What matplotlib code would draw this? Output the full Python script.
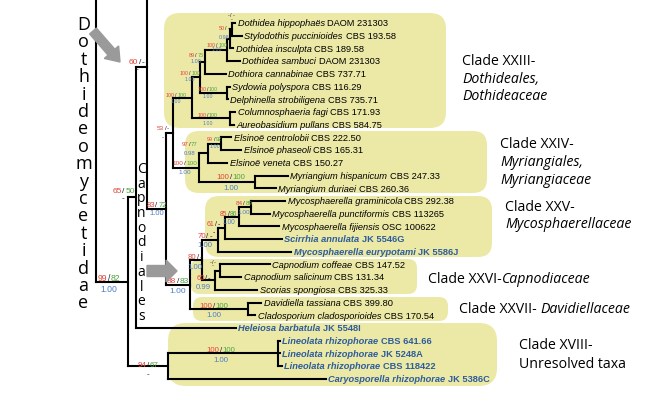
import matplotlib
matplotlib.use("Agg")
import matplotlib.pyplot as plt
from matplotlib.patches import FancyBboxPatch, FancyArrow

# ---------------- data ----------------
taxa = ["Dothidea hippophaës", "Stylodothis puccinioides", "Dothidea insculpta",
        "Dothidea sambuci", "Dothiora cannabinae", "Sydowia polyspora",
        "Delphinella strobiligena", "Columnosphaeria fagi", "Aureobasidium pullans",
        "Elsinoë centrolobii", "Elsinoë phaseoli", "Elsinoë veneta",
        "Myriangium hispanicum", "Myriangium duriaei", "Mycosphaerella graminicola",
        "Mycosphaerella punctiformis", "Mycosphaerella fijiensis", "Scirrhia annulata",
        "Mycosphaerella eurypotami", "Capnodium coffeae", "Capnodium salicinum",
        "Scorias spongiosa", "Davidiella tassiana", "Cladosporium cladosporioides",
        "Heleiosa barbatula", "Lineolata rhizophorae", "Lineolata rhizophorae",
        "Lineolata rhizophorae", "Caryosporella rhizophorae"]
strains = ["DAOM 231303", "CBS 193.58", "CBS 189.58", "DAOM 231303", "CBS 737.71",
           "CBS 116.29", "CBS 735.71", "CBS 171.93", "CBS 584.75", "CBS 222.50",
           "CBS 165.31", "CBS 150.27", "CBS 247.33", "CBS 260.36", "CBS 292.38",
           "CBS 113265", "OSC 100622", "JK 5546G", "JK 5586J", "CBS 147.52",
           "CBS 131.34", "CBS 325.33", "CBS 399.80", "CBS 170.54", "JK 5548I",
           "CBS 641.66", "JK 5248A", "CBS 118422", "JK 5386C"]
new_taxa = [17, 18, 24, 25, 26, 27, 28]
tip_x = [235, 242, 233, 240, 226, 230, 228, 235, 234,
         231, 241, 227, 288, 276,
         285, 270, 279, 282, 291,
         270, 241, 257, 261, 255,
         236, 280, 280, 282, 326]

# internal nodes: (name, x, children); children are tip indices or node names
nodes = [
    ("A", 232, [0, 1]), ("B", 229.5, ["A", 2]), ("C", 227, ["B", 3]),
    ("D", 205, ["C", 4]), ("F", 227, [5, 6]), ("E", 200, ["D", "F"]),
    ("H", 230, [7, 8]), ("G", 192, ["E", "H"]),
    ("I", 221, [9, 10]), ("J", 208, ["I", 11]), ("L", 255, [12, 13]),
    ("K", 199, ["J", "L"]), ("Q", 173, ["G", "K"]),
    ("M", 251, [14, 15]), ("N", 239, ["M", 16]), ("O", 225, ["N", 17]),
    ("Pn", 218, ["O", 18]), ("X1", 220, [19, 20]), ("X2", 215, ["X1", 21]),
    ("Y", 202, ["Pn", "X2"]), ("Z", 248, [22, 23]), ("S", 190, ["Y", "Z"]),
    ("P", 166, ["Q", "S"]), ("V", 147, ["up1", "P"]),
    ("Lin", 278, [25, 26, 27]), ("R18", 168, ["Lin", 28]),
    ("U", 136, ["V", 24]), ("T", 128, ["U", "R18"]), ("W", 96, ["up2", "T"]),
]
# lineages that continue above the picture (tip rows, negative = off the top)
offpage = {"up1": -7.7, "up2": -30.0}

support = {
    "A": ("-/-", "-"), "B": ("50/-", "0.98"), "C": ("100/100", "1.00"),
    "D": ("89/75", "1.00"), "E": ("100/100", "1.00"), "F": ("100/100", "1.00"),
    "G": ("100/100", "1.00"), "H": ("100/100", "1.00"), "Q": ("53/-", "-"),
    "I": ("99/92", "1.00"), "J": ("97/77", "0.98"), "K": ("100/100", "1.00"),
    "L": ("100/100", "1.00"), "P": ("83/72", "1.00"), "M": ("84/89", "1.00"),
    "N": ("85/86", "1.00"), "O": ("61/-", "-"), "Pn": ("70/-", "1.00"),
    "X1": ("-/-", "-"), "X2": ("60/-", "0.99"), "Y": ("80/-", "1.00"),
    "Z": ("100/100", "1.00"), "S": ("88/83", "1.00"), "Lin": ("100/100", "1.00"),
    "R18": ("94/67", "-"), "T": ("99/82", "1.00"), "U": ("65/50", "-"),
    "V": ("60/-", "-"),
}

# ---------------- style / layout ----------------
RED, GREEN, BLUE, NEWBLUE = "#e2443a", "#4fa341", "#4d7cc3", "#2c5c9c"
BOX = "#ece9a7"
SANS = "Liberation Sans"
HUM = "Open Sans"

# label placement per node: (dx from branch middle, shift up of support, shift up of pp, size)
lab_style = {
    "A": (0.5, 11, 13.4, 3.9), "B": (-4.5, 7.5, 5, 3.9), "C": (1, 1.5, 4, 3.8),
    "D": (-6.5, 3.5, 4, 4.0), "E": (-6, 1, 1.4, 3.8), "F": (-6, 0.5, 0, 3.8),
    "G": (-6.5, -0.5, 0, 3.8), "H": (-3.5, 0, -1.7, 3.8), "Q": (-6.5, 1, 0, 4.6),
    "I": (0, 1, 0.7, 3.9), "J": (-14, 6, 4, 4.3), "K": (-1, 1, 0, 4.6),
    "L": (4, 1.4, -1, 5.6), "P": (0, 0.5, 0.6, 5.5), "M": (-1, 0.3, -0.7, 4.6),
    "N": (-3.5, -0.7, -1, 4.8), "O": (-8, 0.5, 0, 5.0), "Pn": (-5.5, 0.4, 0, 5.6),
    "Y": (-1, -0.3, -1.8, 5.6), "X1": (-5, 5.3, 8.8, 4.0), "X2": (-5, -1, -1.6, 5.6),
    "Z": (-5, -0.5, -1, 5.6), "S": (0, 0, -1.4, 6.0), "Lin": (-2, 0, -1, 5.6),
    "R18": (0, -2.5, -3, 5.8), "T": (-3, -0.5, -2, 6.2), "U": (-8.5, 3, 4.5, 6.0),
    "V": (-5, 1.5, 3, 6.0),
}

W, H = 667, 400
fig = plt.figure(figsize=(W / 100, H / 100), dpi=100)
bg = fig.add_axes([0, 0, 1, 1])
bg.set_xlim(0, W)
bg.set_ylim(H, 0)
bg.axis("off")
ax = fig.add_axes([0, 0, 1, 1])
ax.set_xlim(0, W)
ax.set_ylim((H - 23) / 12.71, -23 / 12.71)   # tip rows, 12.7 px apart
ax.axis("off")
ax.patch.set_alpha(0)

rend = fig.canvas.get_renderer()


def text_w(s, fp):
    t = fig.text(0, 0, s, **fp)
    w = t.get_window_extent(renderer=rend).width
    t.remove()
    return w


def put_runs(axis, x, y, runs, dx=0.0, dy=0.0, center=False):
    gaps, widths = [], []
    for text, fp in runs:
        g = 0.6
        if text.startswith(" "):
            g = text_w("a a", fp) - text_w("aa", fp)
        gaps.append(g)
        widths.append(text_w(text.strip(), fp))
    gaps[0] = 0
    total = sum(gaps) + sum(widths)
    off = dx - total / 2 if center else dx
    for (text, fp), g, w in zip(runs, gaps, widths):
        off += g
        axis.annotate(text.strip(), (x, y), xytext=(off, dy), textcoords="offset pixels",
                      ha="left", va="baseline", **fp)
        off += w


# ---- clade boxes ----
boxes = [(164, 13, 446, 128, 16), (185, 131, 487, 193, 14), (205, 196, 492, 257, 14),
         (191, 259, 417, 294, 9), (193, 297, 448, 321, 9), (168, 323, 497, 386, 18)]
for x0, y0, x1, y1, r in boxes:
    bg.add_patch(FancyBboxPatch((x0, y0), x1 - x0, y1 - y0,
                                boxstyle=f"round,pad=0,rounding_size={r}",
                                fc=BOX, ec="none", zorder=0))

# ---- tree ----
pos = {i: (x, i) for i, x in enumerate(tip_x)}
for k, row in offpage.items():
    pos[k] = (W, row)
parent = {}
for name, x, kids in nodes:
    ys = [pos[k][1] for k in kids]
    pos[name] = (x, (min(ys) + max(ys)) / 2)
    ax.plot([x, x], [min(ys), max(ys)], color="black", lw=1.5, solid_capstyle="projecting")
    for k in kids:
        parent[k] = name
        ax.plot([x, pos[k][0]], [pos[k][1]] * 2, color="black", lw=1.5,
                solid_capstyle="projecting")

# ---- taxon names ----
for i, (name, strain) in enumerate(zip(taxa, strains)):
    new = i in new_taxa
    col = NEWBLUE if new else "black"
    wt = "bold" if new else "normal"
    fi = dict(fontsize=6.7, fontfamily=SANS, fontstyle="italic", fontweight=wt, color=col)
    fr = dict(fontsize=6.7, fontfamily=SANS, fontstyle="normal", fontweight=wt, color=col)
    put_runs(ax, tip_x[i], i, [(name, fi), (" " + strain, fr)], dx=2.5, dy=-3.3)

# ---- support values ----
for node, (bs, pp) in support.items():
    dx, sdy, pdy, size = lab_style[node]
    x, y = pos[node]
    px = pos[parent[node]][0]
    cx = (x + px) / 2
    a, b = bs.split("/")
    base = dict(fontsize=size, fontfamily=SANS)
    runs = [(a, dict(base, color=RED if a != "-" else "#222222")),
            ("/", dict(base, color="#222222")),
            (b, dict(base, color=GREEN if b != "-" else "#222222"))]
    put_runs(ax, cx, y, runs, dx=dx, dy=1.5 + sdy, center=True)
    cap = size * 100 / 72 * 0.72
    put_runs(ax, cx, y, [(pp, dict(base, color=BLUE if pp != "-" else "#222222"))],
             dx=dx, dy=-(1.5 + cap) + pdy, center=True)

# ---- clade names ----
reg = dict(fontsize=10.2, fontfamily=HUM, color="black")
ita = dict(reg, fontstyle="italic")
clade_text = [
    (462, 65, [("Clade XXIII-", reg)]), (462, 83, [("Dothideales,", ita)]),
    (462, 100, [("Dothideaceae", ita)]),
    (500, 148, [("Clade XXIV-", reg)]), (500, 166, [("Myriangiales,", ita)]),
    (500, 184, [("Myriangiaceae", ita)]),
    (505, 211, [("Clade XXV-", reg)]), (505, 228, [("Mycosphaerellaceae", ita)]),
    (428, 283, [("Clade XXVI-", reg), ("Capnodiaceae", ita)]),
    (459, 313, [("Clade XXVII-", reg), (" Davidiellaceae", ita)]),
    (519, 349, [("Clade XVIII-", reg)]), (519, 368, [("Unresolved taxa", reg)]),
]
for x, y, runs in clade_text:
    put_runs(bg, x, y, runs)

# ---- vertical group names ----
for k, ch in enumerate("Dothideomycetidae"):
    bg.text(83.5, 30 + 17.4 * k, ch, ha="center", va="baseline", fontsize=13,
            fontfamily=HUM, color="black")
for k, ch in enumerate("Capnodiales"):
    bg.text(141.5, 173 + 14.7 * k, ch, ha="center", va="baseline", fontsize=10,
            fontfamily=HUM, color="black")

# ---- grey arrows ----
for ar in (FancyArrow(93, 31, 27, 31, width=9, head_width=19, head_length=13,
                      length_includes_head=True),
           FancyArrow(147, 271, 30, 0, width=11, head_width=22, head_length=11,
                      length_includes_head=True)):
    ar.set_color("#9a9a9a")
    ar.set_transform(bg.transData)
    ar.set_zorder(5)
    fig.add_artist(ar)

fig.savefig("out.png", dpi=100)
